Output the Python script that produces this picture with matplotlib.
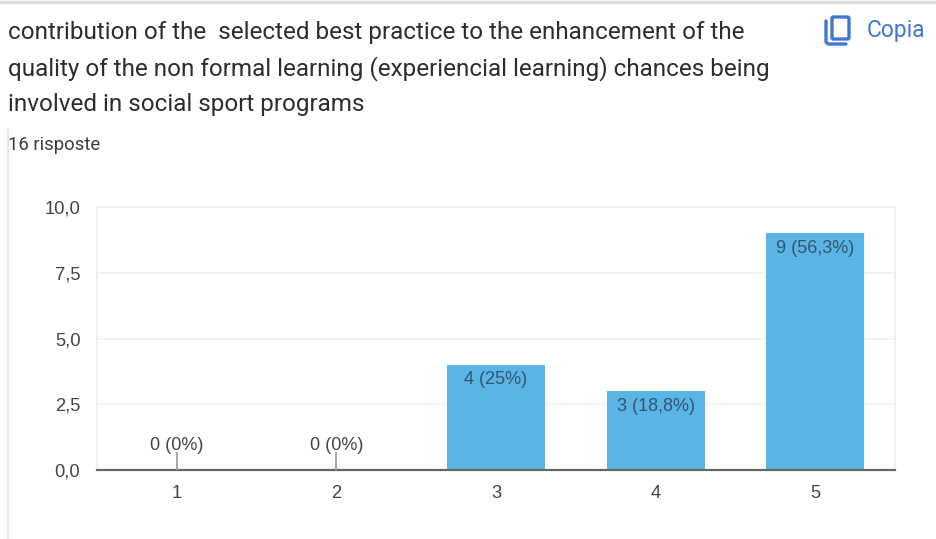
import matplotlib
matplotlib.use("Agg")
import matplotlib.pyplot as plt
from matplotlib.patches import FancyBboxPatch

plt.rcParams['font.family'] = ['Roboto', 'Liberation Sans', 'DejaVu Sans']
chart_font = ['Liberation Sans', 'DejaVu Sans']

categories = ["1", "2", "3", "4", "5"]
values = [0, 0, 4, 3, 9]
bar_labels = ["0 (0%)", "0 (0%)", "4 (25%)", "3 (18,8%)", "9 (56,3%)"]
y_ticks = [0, 2.5, 5, 7.5, 10]
y_labels = ["0,0", "2,5", "5,0", "7,5", "10,0"]
title_lines = [
    "contribution of the  selected best practice to the enhancement of the",
    "quality of the non formal learning (experiencial learning) chances being",
    "involved in social sport programs",
]
responses = "16 risposte"
copy_label = "Copia"

W, H = 937, 539
fig = plt.figure(figsize=(W / 100, H / 100), dpi=100)

# overlay in pixel coords for the card and header
bg = fig.add_axes([0, 0, 1, 1])
bg.set_xlim(0, W)
bg.set_ylim(H, 0)
bg.axis("off")
bg.plot([0, W], [2, 2], color="#dcdcdc", lw=2.5)
bg.plot([8, 8], [130, H], color="#e6e6e6", lw=1.5)

for line, y in zip(title_lines, [33, 69, 104]):
    bg.text(8, y, line, fontsize=17.5, color="#2b2d30", va="center", ha="left")
bg.text(8, 145, responses, fontsize=13.3, color="#3c3c3c", va="center", ha="left")
bg.text(867, 31, copy_label, fontsize=16.4, color="#3f78d0", va="center", ha="left")

# copy icon
bg.add_patch(FancyBboxPatch((832, 17), 17, 22, boxstyle="round,pad=0,rounding_size=1.5",
                            fc="none", ec="#3f78d0", lw=2.4))
bg.plot([826, 826, 828, 846], [21, 42, 44, 44], color="#3f78d0", lw=2.4,
        solid_capstyle="round", solid_joinstyle="round")

ax = fig.add_axes([97 / W, 1 - 470 / H, (895 - 97) / W, (470 - 207) / H])
x = list(range(1, 6))
ax.bar(x, values, width=0.615, color="#5ab4e5", zorder=2)
ax.set_xlim(0.5, 5.5)
ax.set_ylim(0, 10)
ax.set_xticks(x)
ax.set_xticklabels(categories, family=chart_font)
ax.set_yticks(y_ticks)
ax.set_yticklabels(y_labels, family=chart_font)
ax.tick_params(axis="both", length=0, labelsize=13.2, labelcolor="#444444")
ax.tick_params(axis="x", pad=10.5)
ax.tick_params(axis="y", pad=12)
ax.grid(axis="y", color="#f1f1f1", lw=1.2, zorder=0)
ax.set_axisbelow(True)
for s in ["top", "right", "left"]:
    ax.spines[s].set_color("#efefef")
    ax.spines[s].set_linewidth(1.2)
ax.spines["bottom"].set_color("#666666")
ax.spines["bottom"].set_linewidth(1.6)

for xi, v, lab in zip(x, values, bar_labels):
    if v == 0:
        # short leader line up to the label of an empty bar
        ax.plot([xi, xi], [0, 0.66], color="#a0a0a0", lw=1.3, zorder=3)
        ax.text(xi, 0.62, lab, ha="center", va="bottom", fontsize=13, color="#444444",
                family=chart_font, zorder=4)
    else:
        ax.text(xi, v - 0.25, lab, ha="center", va="top", fontsize=13, color="#33566e",
                family=chart_font, zorder=4)

fig.savefig("out.png", dpi=100)
